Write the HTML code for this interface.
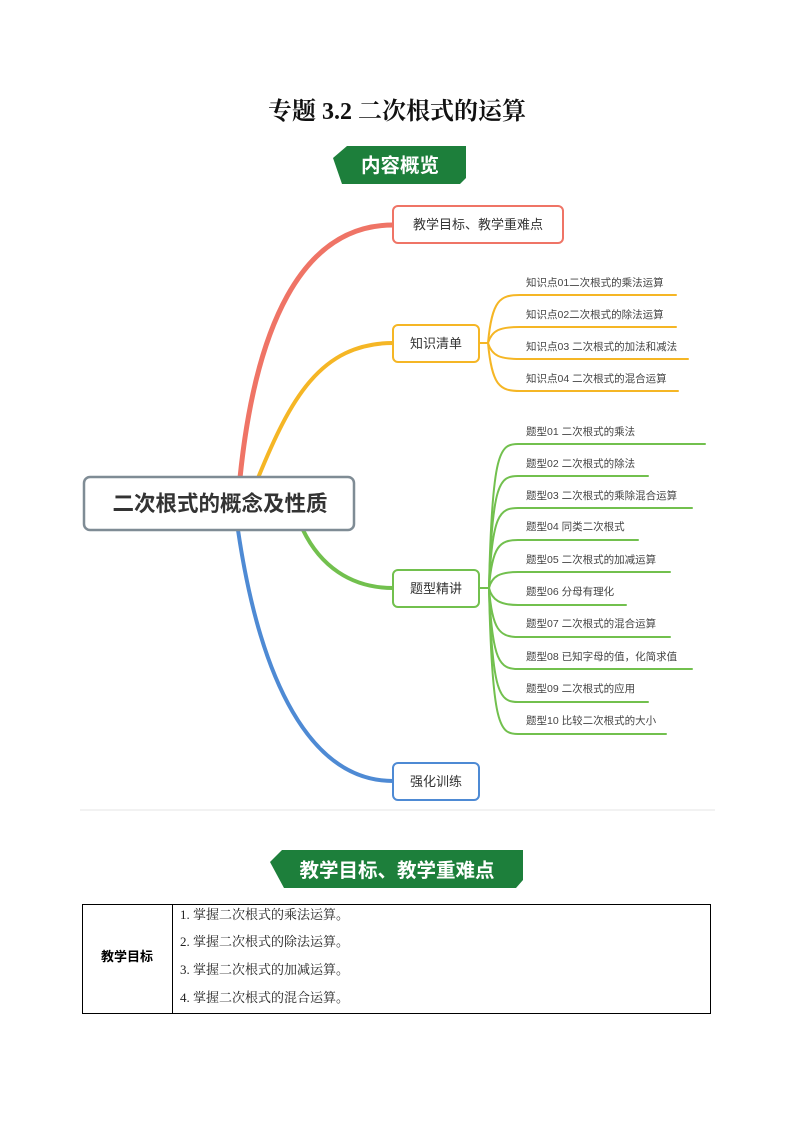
<!DOCTYPE html>
<html><head><meta charset="utf-8"><style>
body{margin:0;background:#fff;}
svg{display:block}
.s{font-family:"Liberation Sans","Noto Sans CJK SC",sans-serif;}
.r{font-family:"Liberation Serif","Noto Serif CJK SC",serif;}
</style></head><body>
<svg width="793" height="1122" viewBox="0 0 793 1122" xmlns="http://www.w3.org/2000/svg">
<rect width="793" height="1122" fill="#fff"/>
<text x="397" y="119" text-anchor="middle" class="r" font-size="24" font-weight="bold" fill="#111">专题 3.2  二次根式的运算</text>
<polygon points="347,146 466,146 466,178 460,184 342,184 333,158" fill="#1d7f3b"/>
<text x="400" y="172" text-anchor="middle" class="s" font-size="19.5" font-weight="bold" fill="#fff">内容概览</text>

<g fill="none" stroke-linecap="round">
<path d="M240,478 C255,330 300,225 393,225" stroke="#ef7466" stroke-width="5"/>
<path d="M258,478 C290,400 320,343 393,343" stroke="#f5b625" stroke-width="4"/>
<path d="M303,530 C320,565 350,588 393,588" stroke="#72c04e" stroke-width="4"/>
<path d="M238,530 C260,680 310,781 393,781" stroke="#4e8ad4" stroke-width="4"/>
<g stroke="#f5b625" stroke-width="2">
<path d="M480,343 L488,343"/>
<path d="M488,343 C492,300 500,295 520,295 L676,295"/>
<path d="M488,343 C492,330 500,327 520,327 L676,327"/>
<path d="M488,343 C492,356 500,359 520,359 L688,359"/>
<path d="M488,343 C492,386 500,391 520,391 L678,391"/>
</g>
<g stroke="#72c04e" stroke-width="2">
<path d="M480,588 L489,588"/>
<path d="M489,588 C492,450 500,444 518,444 L705,444"/>
<path d="M489,588 C492,482 500,476 518,476 L648,476"/>
<path d="M489,588 C492,514 500,508 518,508 L692,508"/>
<path d="M489,588 C492,546 500,540 518,540 L638,540"/>
<path d="M489,588 C492,576 500,572 518,572 L670,572"/>
<path d="M489,588 C492,600 500,605 518,605 L626,605"/>
<path d="M489,588 C492,630 500,637 518,637 L670,637"/>
<path d="M489,588 C492,662 500,669 518,669 L692,669"/>
<path d="M489,588 C492,695 500,702 518,702 L648,702"/>
<path d="M489,588 C492,728 500,734 518,734 L666,734"/>
</g>
</g>

<rect x="393" y="206" width="170" height="37" rx="5" fill="#fff" stroke="#ef7466" stroke-width="2"/>
<text x="478" y="229" text-anchor="middle" class="s" font-size="13" fill="#333">教学目标、教学重难点</text>
<rect x="393" y="325" width="86" height="37" rx="5" fill="#fff" stroke="#f5b625" stroke-width="2"/>
<text x="436" y="348" text-anchor="middle" class="s" font-size="13" fill="#333">知识清单</text>
<rect x="84" y="477" width="270" height="53" rx="6" fill="#fff" stroke="#7f8c95" stroke-width="2.5"/>
<text x="220" y="511" text-anchor="middle" class="s" font-size="21.5" font-weight="bold" fill="#333">二次根式的概念及性质</text>
<rect x="393" y="570" width="86" height="37" rx="5" fill="#fff" stroke="#72c04e" stroke-width="2"/>
<text x="436" y="593" text-anchor="middle" class="s" font-size="13" fill="#333">题型精讲</text>
<rect x="393" y="763" width="86" height="37" rx="5" fill="#fff" stroke="#4e8ad4" stroke-width="2"/>
<text x="436" y="786" text-anchor="middle" class="s" font-size="13" fill="#333">强化训练</text>

<g class="s" font-size="10.5" fill="#444">
<text x="526" y="286">知识点01二次根式的乘法运算</text>
<text x="526" y="318">知识点02二次根式的除法运算</text>
<text x="526" y="350">知识点03 二次根式的加法和减法</text>
<text x="526" y="382">知识点04 二次根式的混合运算</text>
<text x="526" y="435">题型01  二次根式的乘法</text>
<text x="526" y="467">题型02 二次根式的除法</text>
<text x="526" y="499">题型03 二次根式的乘除混合运算</text>
<text x="526" y="530">题型04 同类二次根式</text>
<text x="526" y="563">题型05 二次根式的加减运算</text>
<text x="526" y="595">题型06 分母有理化</text>
<text x="526" y="627">题型07 二次根式的混合运算</text>
<text x="526" y="660">题型08 已知字母的值，化简求值</text>
<text x="526" y="692">题型09 二次根式的应用</text>
<text x="526" y="724">题型10 比较二次根式的大小</text>
</g>
<line x1="80" y1="810" x2="715" y2="810" stroke="#e6e6e6" stroke-width="1"/>

<polygon points="282,850 523,850 523,880 516,888 284,888 270,862" fill="#1d7f3b"/>
<text x="397" y="877" text-anchor="middle" class="s" font-size="19.5" font-weight="bold" fill="#fff">教学目标、教学重难点</text>

<rect x="82.5" y="904.5" width="628" height="109" fill="none" stroke="#000" stroke-width="1"/>
<line x1="172.5" y1="904" x2="172.5" y2="1014" stroke="#000" stroke-width="1"/>
<text x="127" y="961" text-anchor="middle" class="s" font-size="13" font-weight="bold" fill="#000">教学目标</text>
<g class="r" font-size="13" fill="#222">
<text x="180" y="919">1. 掌握二次根式的乘法运算。</text>
<text x="180" y="946">2. 掌握二次根式的除法运算。</text>
<text x="180" y="974">3. 掌握二次根式的加减运算。</text>
<text x="180" y="1002">4. 掌握二次根式的混合运算。</text>
</g>
</svg>
</body></html>
